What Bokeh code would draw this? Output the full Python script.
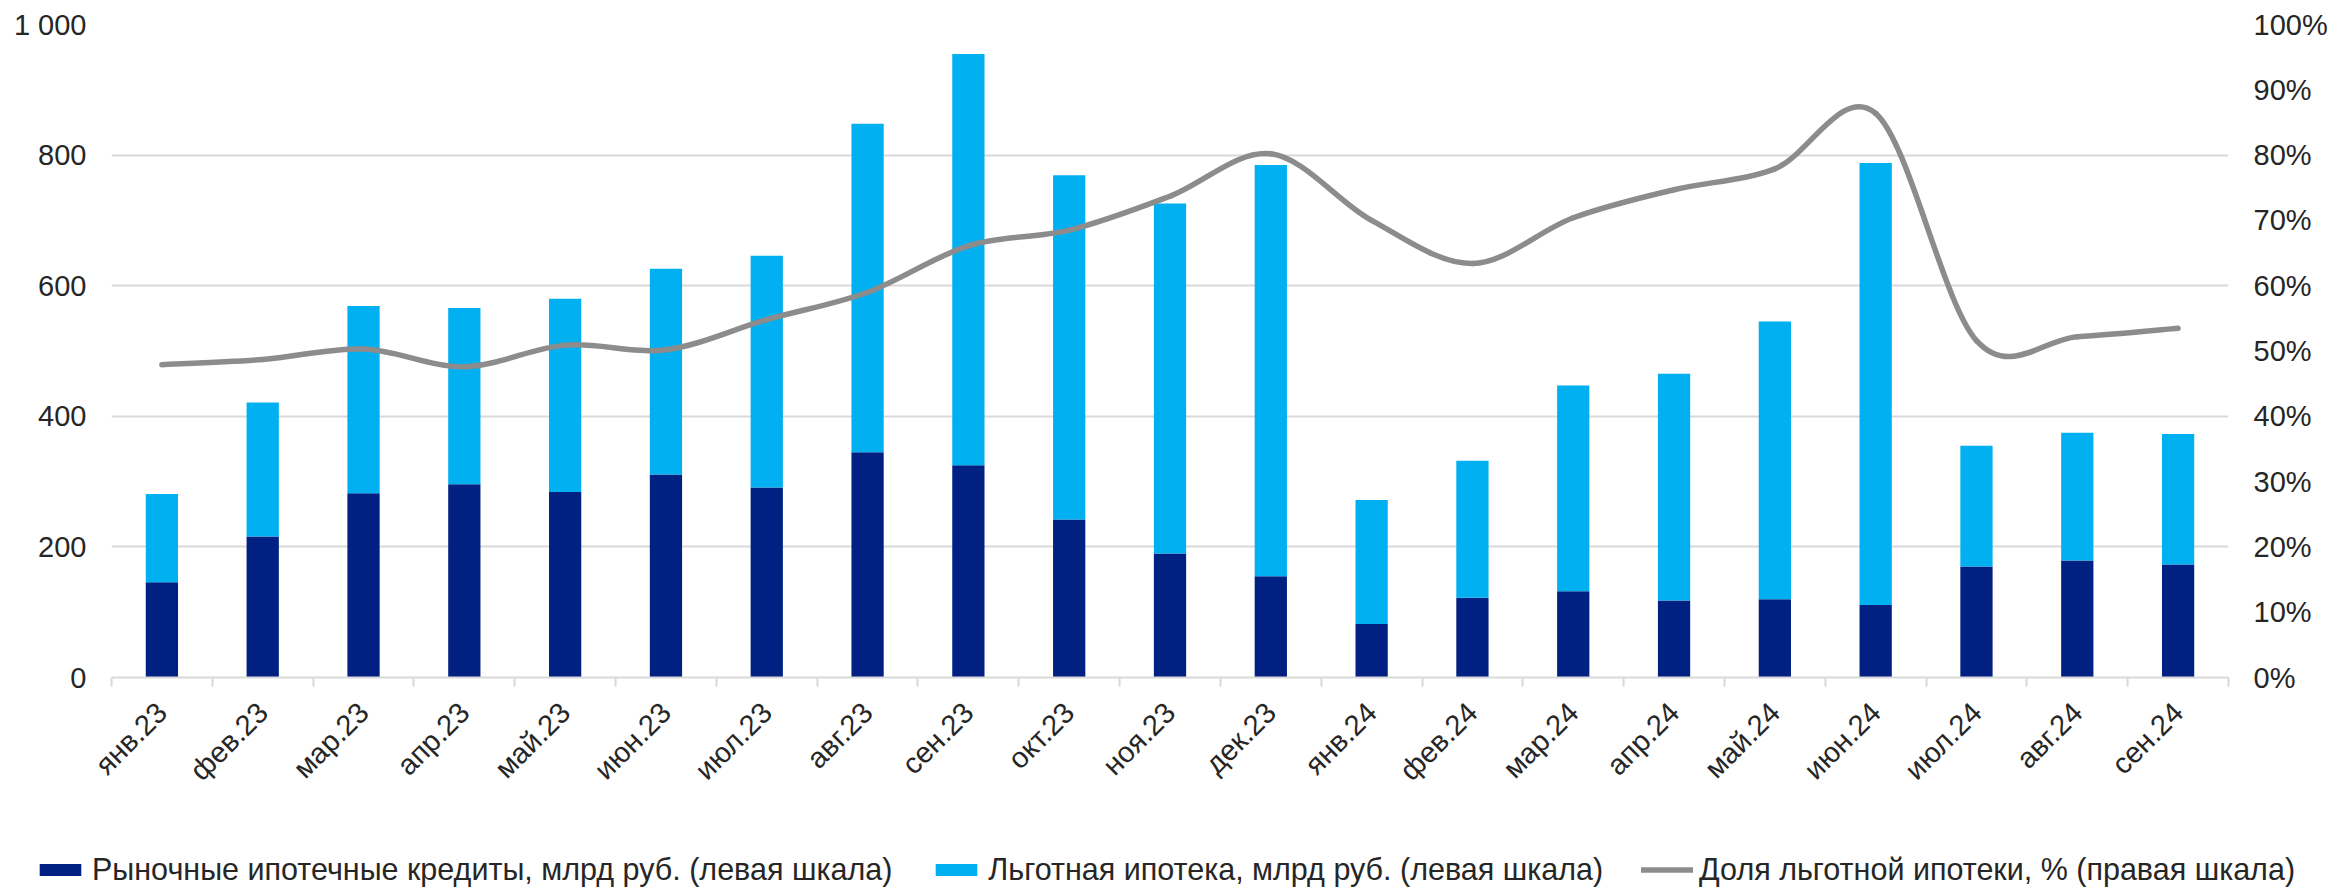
import math
from bokeh.plotting import figure
from bokeh.models import (Range1d, LinearAxis, FixedTicker, NumeralTickFormatter,
                          Legend, LegendItem, ColumnDataSource)
from bokeh.embed import file_html
from bokeh.resources import INLINE

months = ["янв.23", "фев.23", "мар.23", "апр.23", "май.23", "июн.23", "июл.23",
          "авг.23", "сен.23", "окт.23", "ноя.23", "дек.23", "янв.24", "фев.24",
          "мар.24", "апр.24", "май.24", "июн.24", "июл.24", "авг.24", "сен.24"]
market = [146, 216, 282, 296, 284, 311, 291, 345, 325, 242, 190, 155, 82, 122,
          132, 118, 120, 111, 170, 179, 173]
preferential = [135, 205, 287, 270, 296, 315, 355, 503, 630, 527, 536, 630, 190, 210,
                315, 347, 425, 677, 185, 196, 200]
share = [47.9, 48.7, 50.3, 47.6, 50.9, 50.2, 54.8, 59.0, 66.1, 68.5, 73.7, 80.2, 70.0, 63.4,
         70.4, 74.7, 77.9, 86.4, 51.6, 52.2, 53.5]

left_ticks = [0, 200, 400, 600, 800, 1000]
right_ticks = [0.0, 0.1, 0.2, 0.3, 0.4, 0.5, 0.6, 0.7, 0.8, 0.9, 1.0]

labels = ["Рыночные ипотечные кредиты, млрд руб. (левая шкала)",
          "Льготная ипотека, млрд руб. (левая шкала)",
          "Доля льготной ипотеки, % (правая шкала)"]

FONT = "Liberation Sans"
TXT = "#262626"
GRID = "#d9d9d9"
FS = "29px"
LFS = "30.5px"
DARK = "#002082"
LIGHT = "#00B0F0"
LINE = "#8C8C8C"

W = 2333
H_MAIN = 827
H_LEG = 60

n = len(months)
xs = list(range(n))
src = ColumnDataSource(dict(x=xs, market=market, preferential=preferential))

p = figure(width=W, height=H_MAIN, output_backend="svg", toolbar_location=None,
           x_range=Range1d(-0.5, n - 0.5), y_range=Range1d(0, 1000),
           min_border_left=111, min_border_right=105, min_border_top=24,
           min_border_bottom=H_MAIN - 677)
p.outline_line_color = None
p.background_fill_color = "white"
p.border_fill_color = "white"
p.extra_y_ranges = {"pct": Range1d(0, 1)}

bars = p.vbar_stack(["market", "preferential"], x="x", width=0.32, source=src,
                    fill_color=[DARK, LIGHT], line_color=None)

# smoothed share line (cubic Bezier segments through the data points)
sh = [v / 100 for v in share]
bx0, by0, bx1, by1, bcx0, bcy0, bcx1, bcy1 = ([] for _ in range(8))
for i in range(n - 1):
    pm = max(i - 1, 0)
    pp = min(i + 2, n - 1)
    bx0.append(xs[i]); by0.append(sh[i])
    bx1.append(xs[i + 1]); by1.append(sh[i + 1])
    bcx0.append(xs[i] + (xs[i + 1] - xs[pm]) / 6)
    bcy0.append(sh[i] + (sh[i + 1] - sh[pm]) / 6)
    bcx1.append(xs[i + 1] - (xs[pp] - xs[i]) / 6)
    bcy1.append(sh[i + 1] - (sh[pp] - sh[i]) / 6)
p.bezier(x0=bx0, y0=by0, x1=bx1, y1=by1, cx0=bcx0, cy0=bcy0, cx1=bcx1, cy1=bcy1,
         y_range_name="pct", line_color=LINE, line_width=5.5, line_cap="round")

# x axis
xa = p.xaxis[0]
xa.ticker = FixedTicker(ticks=xs, minor_ticks=[i - 0.5 for i in range(n + 1)])
xa.major_label_overrides = {i: m for i, m in enumerate(months)}
xa.major_label_orientation = math.pi / 4
xa.major_tick_line_color = None
xa.major_tick_out = 0
xa.major_tick_in = 0
xa.minor_tick_line_color = GRID
xa.minor_tick_line_width = 2
xa.minor_tick_out = 9
xa.minor_tick_in = 0
xa.axis_line_color = GRID
xa.axis_line_width = 2
xa.major_label_standoff = 21
xa.major_label_text_font = FONT
xa.major_label_text_font_size = FS
xa.major_label_text_color = TXT

# left axis
ya = p.yaxis[0]
ya.ticker = FixedTicker(ticks=left_ticks)
ya.major_label_overrides = {1000: "1 000"}
ya.axis_line_color = None
ya.major_tick_line_color = None
ya.minor_tick_line_color = None
ya.major_tick_out = 0
ya.major_label_standoff = 25
ya.major_label_text_font = FONT
ya.major_label_text_font_size = FS
ya.major_label_text_color = TXT

# right axis
ra = LinearAxis(y_range_name="pct", ticker=FixedTicker(ticks=right_ticks),
                formatter=NumeralTickFormatter(format="0%"))
ra.axis_line_color = None
ra.major_tick_line_color = None
ra.minor_tick_line_color = None
ra.major_tick_out = 0
ra.major_label_standoff = 25
ra.major_label_text_font = FONT
ra.major_label_text_font_size = FS
ra.major_label_text_color = TXT
p.add_layout(ra, "right")

p.xgrid.visible = False
p.ygrid.grid_line_color = GRID
p.ygrid.grid_line_width = 2

# legend strip: a separate root below the chart
lf = figure(width=W, height=H_LEG, output_backend="svg", toolbar_location=None,
            x_range=Range1d(0, 1), y_range=Range1d(0, 1),
            x_axis_type=None, y_axis_type=None,
            min_border_left=0, min_border_right=0, min_border_top=0, min_border_bottom=0)
lf.outline_line_color = None
lf.grid.visible = False
lf.background_fill_color = "white"
lf.border_fill_color = "white"
# legend proxies, placed below the visible range
r1 = lf.vbar(x=[0.5], bottom=[-6], top=[-5], width=0.1, fill_color=DARK, line_color=None)
r2 = lf.vbar(x=[0.5], bottom=[-6], top=[-5], width=0.1, fill_color=LIGHT, line_color=None)
r3 = lf.line(x=[0.4, 0.6], y=[-5, -5], line_color=LINE, line_width=5.5, line_cap="round")

legend = Legend(items=[LegendItem(label=labels[0], renderers=[r1]),
                       LegendItem(label=labels[1], renderers=[r2]),
                       LegendItem(label=labels[2], renderers=[r3])],
                orientation="horizontal", location=(34, 0),
                glyph_width=52, glyph_height=15, label_standoff=6, spacing=38,
                padding=0, margin=0, border_line_color=None,
                background_fill_alpha=0, label_text_font=FONT,
                label_text_font_size=LFS, label_text_color=TXT)
lf.add_layout(legend)

open("out.html", "w").write(file_html([p, lf], INLINE))
